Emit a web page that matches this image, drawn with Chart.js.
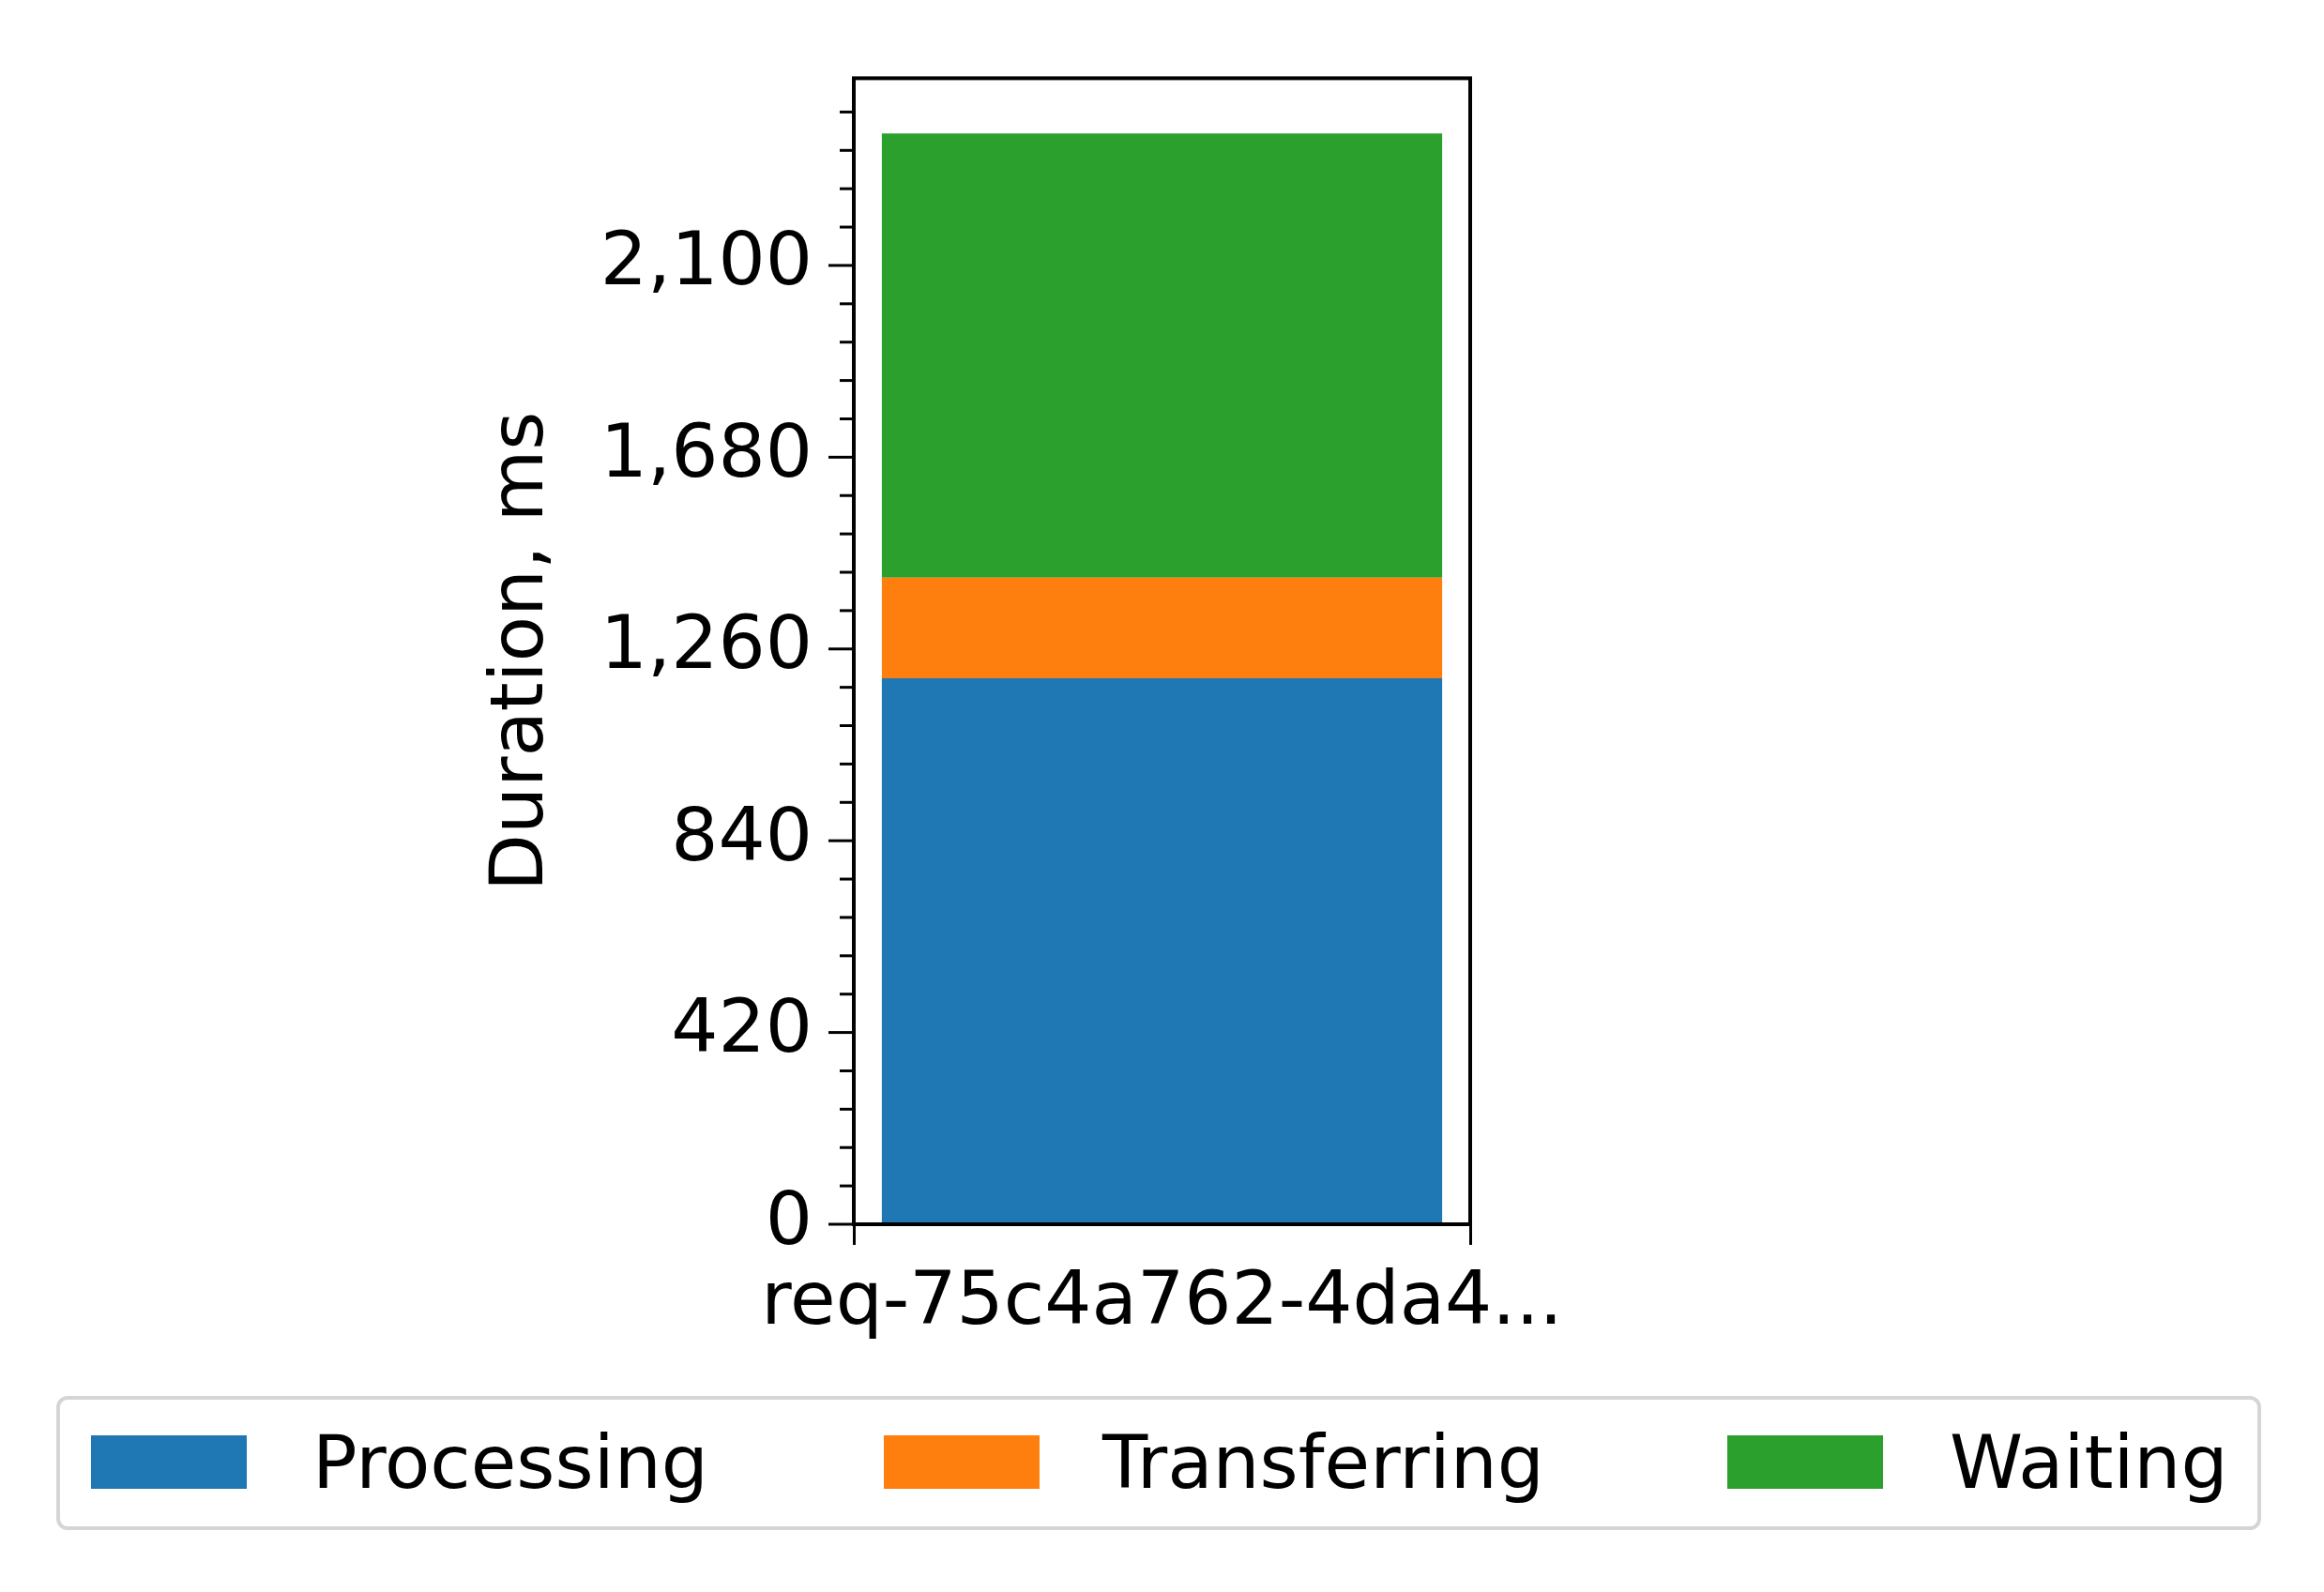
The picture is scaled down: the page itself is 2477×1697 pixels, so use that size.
<!DOCTYPE html>
<html><head><meta charset="utf-8">
<script src="https://cdn.jsdelivr.net/npm/chart.js@4/dist/chart.umd.min.js"></script>
<style>
body{margin:0;background:#fff;font-family:"DejaVu Sans",sans-serif}
#wrap{position:relative;width:2477px;height:1697px}
#legend{position:absolute;left:60px;top:1488px;width:2350px;height:143px;border:4px solid #d5d5d5;border-radius:12px;box-sizing:border-box}
.sw{position:absolute;top:38px;width:166px;height:57px}
.lb{position:absolute;top:22px;font-size:79px;line-height:90px;color:#000}
</style></head>
<body><div id="wrap"><canvas id="c" width="2477" height="1697"></canvas>
<div id="legend"></div></div>
<script>
// data
const categories = ["req-75c4a762-4da4..."]
const seriesNames = ["Processing", "Transferring", "Waiting"]
const seriesColors = ["#1f77b4", "#ff7f0e", "#2ca02c"]
const processing = [1196]
const transferring = [220]
const waiting = [973]
const yTicks = [0, 420, 840, 1260, 1680, 2100]

const allSeries = [processing, transferring, waiting]

// legend built by hand, matplotlib style
const legendX = [[33, 269], [878, 1111], [1777, 2014]]
const legend = document.getElementById("legend")
seriesNames.forEach((name, i) => {
  legend.insertAdjacentHTML("beforeend",
    `<div class="sw" style="left:${legendX[i][0]}px;background:${seriesColors[i]}"></div>` +
    `<div class="lb" style="left:${legendX[i][1]}px">${name}</div>`)
})

// box around plot plus minor ticks on y
const framePlugin = {
  id: "frame",
  afterDraw(chart) {
    const { ctx, chartArea: a } = chart
    const y = chart.scales.y
    ctx.save()
    ctx.strokeStyle = "#000"
    ctx.lineWidth = 4
    ctx.strokeRect(a.left, a.top, a.right - a.left, a.bottom - a.top)
    ctx.lineWidth = 3
    for (let v = 0; v <= y.max; v += 84) {
      const p = y.getPixelForValue(v)
      const len = v % 420 === 0 ? 27 : 15
      ctx.beginPath()
      ctx.moveTo(a.left, p)
      ctx.lineTo(a.left - len, p)
      ctx.stroke()
    }
    ctx.restore()
  }
}

const font = { family: "DejaVu Sans", size: 79 }

new Chart(document.getElementById("c"), {
  type: "bar",
  data: {
    labels: categories,
    datasets: seriesNames.map((n, i) => ({
      label: n,
      data: allSeries[i],
      backgroundColor: seriesColors[i],
      barPercentage: 0.909,
      categoryPercentage: 1
    }))
  },
  options: {
    responsive: false,
    animation: false,
    layout: { padding: { left: 510, top: 58, right: 910, bottom: 0 } },
    plugins: { legend: { display: false }, tooltip: { enabled: false } },
    scales: {
      x: {
        stacked: true,
        afterFit: (s) => { s.height = 392 },
        grid: { drawOnChartArea: false, drawTicks: true, tickLength: 22, tickWidth: 3, tickColor: "#000" },
        border: { display: false },
        ticks: { color: "#000", font, padding: 16, maxRotation: 0 }
      },
      y: {
        stacked: true,
        min: 0,
        max: 2510,
        afterFit: (s) => { s.width = 400 },
        afterBuildTicks: (s) => { s.ticks = yTicks.map((v) => ({ value: v })) },
        grid: { display: false },
        border: { display: false },
        ticks: { color: "#000", font, padding: 36 },
        title: { display: true, text: "Duration, ms", color: "#000", font, padding: 0 }
      }
    }
  },
  plugins: [framePlugin]
})
</script></body></html>
